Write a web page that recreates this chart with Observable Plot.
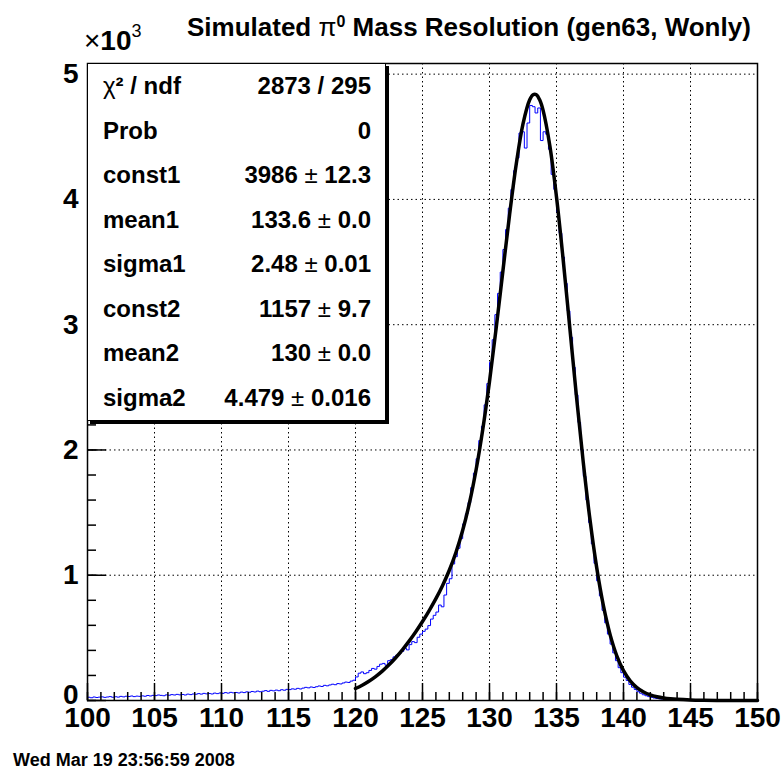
<!DOCTYPE html>
<html>
<head>
<meta charset="utf-8">
<script src="https://cdn.jsdelivr.net/npm/d3@7"></script>
<script src="https://cdn.jsdelivr.net/npm/@observablehq/plot@0.6"></script>
<style>
  html, body { margin: 0; padding: 0; background: #fff; }
  body { font-family: "Liberation Sans", Arial, Helvetica, sans-serif; }
  #wrap { position: relative; width: 784px; height: 776px; overflow: hidden; }
  #wrap svg { position: absolute; left: 0; top: 0; }
  .title { position: absolute; left: 187px; top: 14px; font-size: 26px; font-weight: 700; white-space: nowrap; line-height: 1; }
  .title .sym { font-weight: 400; }
  .title sup { font-size: 16px; vertical-align: 9px; line-height: 0; }
  .mult { position: absolute; left: 84px; top: 27px; font-size: 28px; white-space: nowrap; line-height: 1; }
  .mult .b { font-weight: 700; }
  .mult .x { font-weight: 400; }
  .mult sup { font-size: 18px; font-weight: 400; vertical-align: 13px; line-height: 0; }
  .stats { position: absolute; left: 87px; top: 63px; width: 299px; height: 358px; background: #fff;
           border: 1px solid #000; box-shadow: 3px 3px 0 #000; display: flex; flex-direction: column; box-sizing: border-box; }
  .stats .row { flex: 1; display: flex; justify-content: space-between; align-items: center;
                padding: 0 14px 0 15px; font-size: 24px; font-weight: 700; white-space: nowrap; }
  .stats .sym { font-weight: 400; }
  .date { position: absolute; left: 13px; top: 750px; font-size: 18px; font-weight: 700; white-space: nowrap; }
</style>
</head>
<body>
<div id="wrap"></div>
<script>
// ---------------- data ----------------
const binStart = 100;
const binWidth = 0.2;
// histogram counts, bins of 0.2 from 100 to 150
const counts = [
  26,22,28,24,27,  29,25,28,31,26,  30,27,33,29,34,  32,36,31,35,33,
  37,34,40,36,41,  39,44,41,38,45,  42,47,44,49,45,  48,44,51,47,52,
  50,55,51,57,53,  56,52,59,55,60,  57,63,59,65,61,  64,60,67,63,69,
  66,72,68,75,70,  74,79,73,81,77,  83,78,86,82,89,  87,93,90,97,92,
  99,105,101,108,104,  110,116,112,121,117,  124,130,126,135,132,  140,147,144,155,162,
  188,218,228,214,222,  240,256,250,272,290,  296,282,318,326,348,  362,374,392,418,404,
  446,470,462,505,530,  552,570,598,650,680,  706,762,748,842,935,  972,1090,1148,1215,1292,
  1410,1490,1580,1700,1815,  1930,2075,2190,2360,2530,  2700,2880,3080,3250,3420,  3600,3760,3930,4080,4230,
  4330,4530,4540,4410,4610,  4750,4740,4690,4730,4470,  4540,4520,4400,4200,4080,  3900,3730,3540,3330,3110,
  2900,2660,2440,2220,2000,  1790,1600,1420,1250,1095,  955,835,720,620,530,  450,380,318,262,222,
  186,160,128,106,88,  70,58,46,38,31,  25,20,16,13,11,  9,7,6,5,4,
  3,3,2,2,2,  1,1,1,1,1,  1,0,1,0,0,  0,0,0,0,0,  0,0,0,0,0,  0,0,0,0,0
];
// fitted double-gaussian curve, sampled values
const fitX = [120,120.5,121,121.5,122,122.5,123,123.5,124,124.5,125,125.5,126,126.5,127,127.5,128,128.5,129,129.5,
  130,130.5,131,131.5,132,132.5,133,133.25,133.5,133.75,134,134.5,135,135.5,136,136.5,137,137.5,138,138.5,139,139.5,
  140,140.5,141,141.5,142,142.5,143,143.5,144,145,146,147,148,149,150];
const fitY = [95.7,122,153.7,191.1,234.8,285,341.6,404.7,473.9,549.1,630.3,717.8,812.9,918.8,1040,1183.7,1358.6,1575,1842.2,2166.1,
  2546.9,2974.8,3429.2,3879.1,4284.4,4602.7,4795.5,4835.7,4835.4,4793.7,4711,4430.5,4019.4,3516.6,2967.3,2415.6,1898.5,1442.3,1060.8,757.1,526,357.2,
  238.4,157.2,103.2,67.8,44.9,30,20.1,13.6,9.3,4.2,2,0.9,0.4,0.2,0.1];

const xTicks = [100,105,110,115,120,125,130,135,140,145,150];
const xTickLabels = ["100","105","110","115","120","125","130","135","140","145","150"];
const xGrid = [105,110,115,120,125,130,135,140,145];
const xMinor = d3.range(100, 150.5, 1);
const yTicks = [0,1000,2000,3000,4000,5000];
const yTickLabels = ["0","1","2","3","4","5"];
const yGrid = [1000,2000,3000,4000,5000];
const yMinor = d3.range(0, 5001, 200);

const statNames = ["χ² / ndf","Prob","const1","mean1","sigma1","const2","mean2","sigma2"];
const statValues = ["2873 / 295","0","3986 ± 12.3","133.6 ± 0.0","2.48 ± 0.01","1157 ± 9.7","130 ± 0.0","4.479 ± 0.016"];

const titleText = "Simulated π0 Mass Resolution (gen63, Wonly)";
const dateText = "Wed Mar 19 23:56:59 2008";

// ---------------- chart ----------------
const W = 784, H = 776, mL = 87, mR = 27, mT = 63, mB = 76;
const fw = W - mL - mR, fh = H - mT - mB;

const histPts = counts.map((c, i) => ({x: binStart + i * binWidth, y: c}));
histPts.push({x: binStart + counts.length * binWidth, y: counts[counts.length - 1]});
const fitPts = fitX.map((x, i) => ({x, y: fitY[i]}));
const yLab = d => yTickLabels[yTicks.indexOf(d)];

const chart = Plot.plot({
  width: W, height: H,
  marginLeft: mL, marginRight: mR, marginTop: mT, marginBottom: mB,
  style: {fontFamily: "'Liberation Sans', Arial, Helvetica, sans-serif", background: "transparent", overflow: "visible"},
  x: {domain: [100, 150], label: null},
  y: {domain: [0, 5085], label: null},
  marks: [
    Plot.gridX(xGrid, {stroke: "#000", strokeOpacity: 1, strokeWidth: 1, strokeDasharray: "1.5,3"}),
    Plot.gridY(yGrid, {stroke: "#000", strokeOpacity: 1, strokeWidth: 1, strokeDasharray: "1.5,3"}),
    Plot.line(histPts, {x: "x", y: "y", curve: "step-after", stroke: "#0000ff", strokeWidth: 1}),
    Plot.line(fitPts, {x: "x", y: "y", curve: "catmull-rom", stroke: "#000", strokeWidth: 3.5}),
    Plot.tickX(xMinor, {x: d => d, insetTop: fh - 8, stroke: "#000", strokeWidth: 1.5}),
    Plot.tickX(xTicks, {x: d => d, insetTop: fh - 17, stroke: "#000", strokeWidth: 1.5}),
    Plot.tickY(yMinor, {y: d => d, insetRight: fw - 9, stroke: "#000", strokeWidth: 1.5}),
    Plot.tickY(yTicks, {y: d => d, insetRight: fw - 19, stroke: "#000", strokeWidth: 1.5}),
    Plot.axisX(xTicks, {tickSize: 0, tickPadding: 7, fontSize: 28, fontWeight: "bold", label: null,
      tickFormat: d => xTickLabels[xTicks.indexOf(d)]}),
    Plot.axisY(yTicks.slice(1), {tickSize: 0, tickPadding: 9, fontSize: 28, fontWeight: "bold", label: null, tickFormat: yLab}),
    Plot.axisY(yTicks.slice(0, 1), {tickSize: 0, tickPadding: 9, dy: -5, fontSize: 28, fontWeight: "bold", label: null, tickFormat: yLab}),
    Plot.frame({stroke: "#000", strokeWidth: 1.5})
  ]
});

const wrap = document.getElementById("wrap");
wrap.appendChild(chart);

// title
const t = document.createElement("div");
t.className = "title";
const parts = titleText.split("π0");
t.innerHTML = parts[0] + '<span class="sym">π</span><sup>0</sup>' + parts[1];
wrap.appendChild(t);

// x10^3 multiplier
const m = document.createElement("div");
m.className = "mult";
m.innerHTML = '<span class="x">×</span><span class="b">10</span><sup>3</sup>';
wrap.appendChild(m);

// stats box
const box = document.createElement("div");
box.className = "stats";
statNames.forEach((n, i) => {
  const row = document.createElement("div");
  row.className = "row";
  const a = document.createElement("span");
  a.innerHTML = n.replace("χ", '<span class="sym">χ</span>');
  const b = document.createElement("span");
  b.innerHTML = statValues[i].replace("±", '<span class="sym">±</span>');
  row.appendChild(a); row.appendChild(b);
  box.appendChild(row);
});
wrap.appendChild(box);

// date
const dt = document.createElement("div");
dt.className = "date";
dt.textContent = dateText;
wrap.appendChild(dt);
</script>
</body>
</html>
